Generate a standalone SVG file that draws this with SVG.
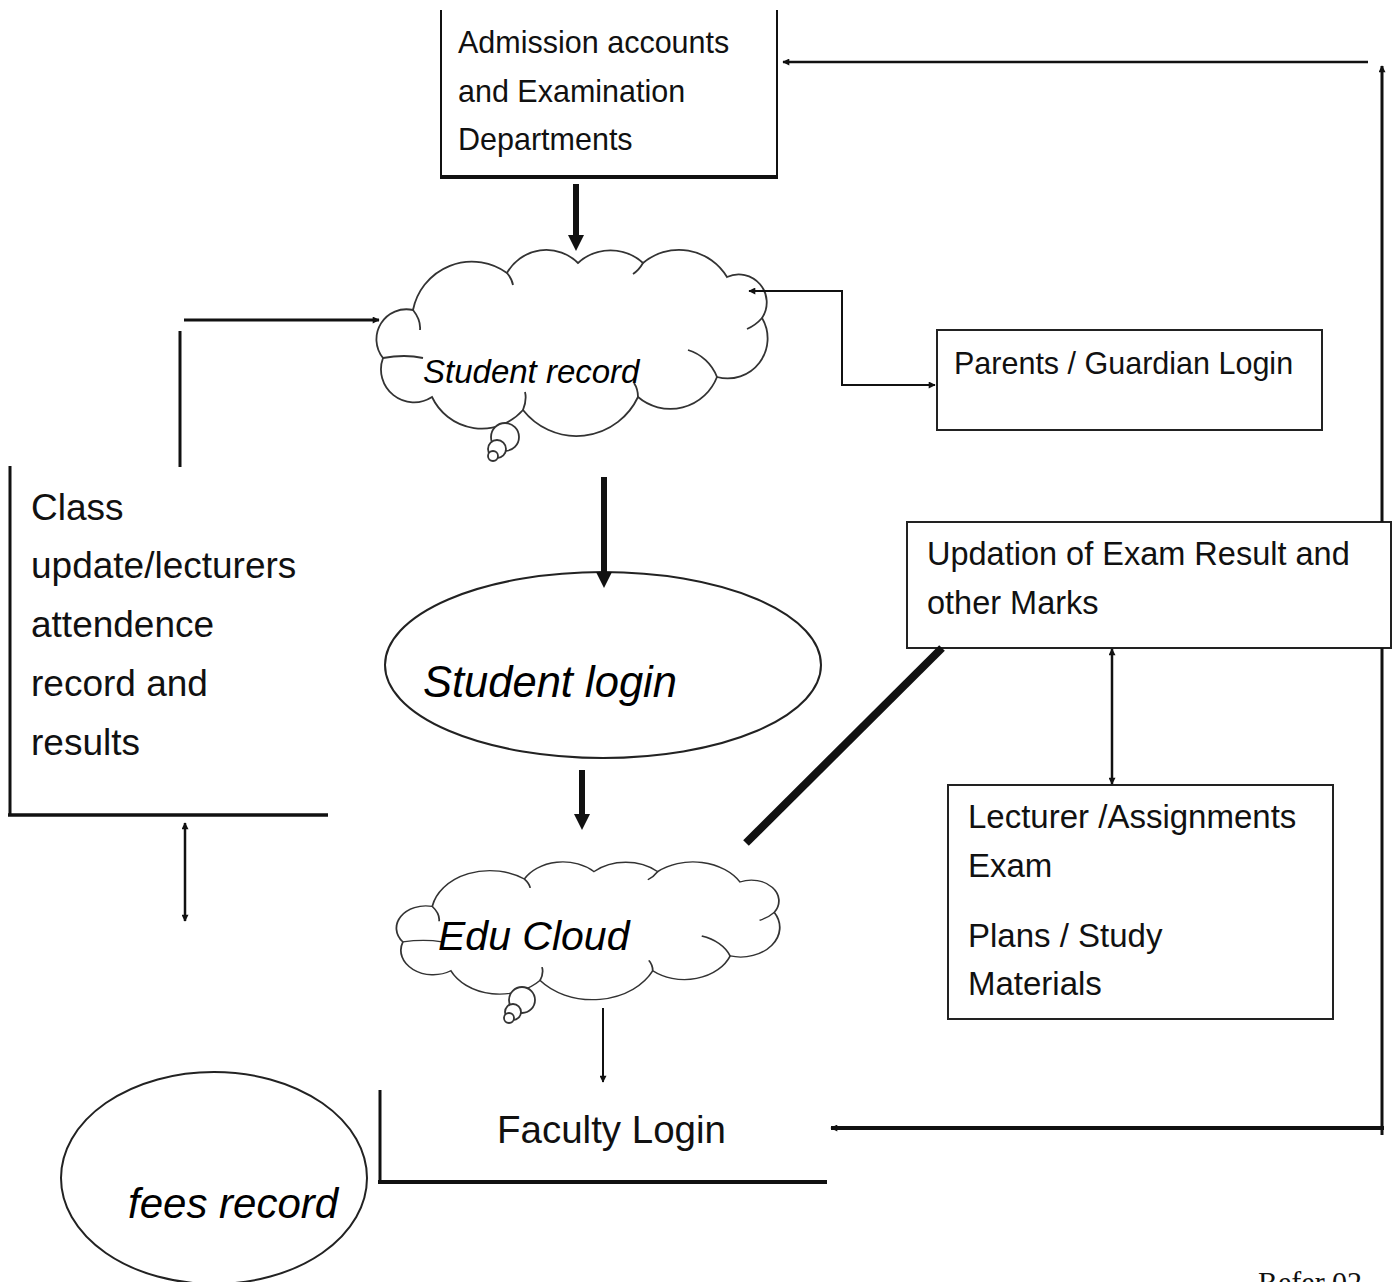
<svg xmlns="http://www.w3.org/2000/svg" width="1392" height="1282" viewBox="0 0 1392 1282">
<defs>
<style>
.t{font-family:"Liberation Sans",Arial,sans-serif;fill:#111}
.i{font-style:italic;fill:#000}
.ln{stroke:#111;fill:none}
.box{fill:#fff;stroke:#222;stroke-width:2}
.cl{fill:#fff;stroke:#333;stroke-width:1.8}
.in{fill:none;stroke:#333;stroke-width:1.8}
</style>
<marker id="big" viewBox="0 0 10 10" refX="1" refY="5" markerWidth="16" markerHeight="16" markerUnits="userSpaceOnUse" orient="auto"><path d="M0,0 L10,5 L0,10 z" fill="#111"/></marker>
<marker id="sm" viewBox="0 0 10 10" refX="9" refY="5" markerWidth="8" markerHeight="7" markerUnits="userSpaceOnUse" orient="auto-start-reverse"><path d="M0,0 L10,5 L0,10 z" fill="#111"/></marker>
<path id="cloud" d="M8,108 A30,30 0 0 1 38,60 A60,60 0 0 1 132,23 A45,45 0 0 1 203,13 A48,48 0 0 1 268,13 A56,56 0 0 1 352,27 A28,28 0 0 1 387,68 A40,40 0 0 1 342,127 A50,50 0 0 1 263,147 A68,68 0 0 1 148,160 A55,55 0 0 1 57,147 A33,33 0 0 1 8,108 Z"/>
<path id="cloudIn" d="M313,100 A45,45 0 0 1 342,127 M38,60 Q46,70 45,80 M148,160 Q152,150 150,142 M263,147 Q263,139 259,133 M387,68 Q381,75 372,79 M132,23 Q137,29 138,35 M268,13 Q264,20 258,24 M8,108 Q30,104 48,108"/>
</defs>

<g id="n-admission">
<path class="ln" stroke-width="2" d="M441,10 V177 M777,10 V177"/>
<line class="ln" x1="440" y1="177" x2="778" y2="177" stroke-width="4"/>
<text class="t" font-size="30.5" x="458" y="53">Admission accounts</text>
<text class="t" font-size="30.5" x="458" y="102">and Examination</text>
<text class="t" font-size="30.5" x="458" y="150">Departments</text>
</g>

<g id="n-student-record">
<use href="#cloud" class="cl" transform="translate(375,250)"/>
<use href="#cloudIn" class="in" transform="translate(375,250)"/>
<circle class="cl" cx="505" cy="437" r="14"/>
<circle class="cl" cx="497" cy="449" r="9"/>
<circle class="cl" cx="493" cy="456" r="5"/>
<text class="t i" font-size="33" x="423" y="383">Student record</text>
</g>

<g id="n-parents">
<rect class="box" x="937" y="330" width="385" height="100"/>
<text class="t" font-size="30.5" x="954" y="374">Parents / Guardian Login</text>
</g>

<g id="n-class">
<path class="ln" stroke-width="3" d="M10,466 V815"/>
<line class="ln" x1="8" y1="815" x2="328" y2="815" stroke-width="3.5"/>
<text class="t" font-size="37" x="31" y="520">Class</text>
<text class="t" font-size="37" x="31" y="578">update/lecturers</text>
<text class="t" font-size="37" x="31" y="637">attendence</text>
<text class="t" font-size="37" x="31" y="696">record and</text>
<text class="t" font-size="37" x="31" y="755">results</text>
</g>

<g id="n-student-login">
<ellipse cx="603" cy="665" rx="218" ry="93" fill="#fff" stroke="#222" stroke-width="2"/>
<text class="t i" font-size="43.5" x="423" y="697">Student login</text>
</g>

<g id="n-updation">
<rect class="box" x="907" y="522" width="484" height="126"/>
<text class="t" font-size="32.5" x="927" y="565">Updation of Exam Result and</text>
<text class="t" font-size="32.5" x="927" y="614">other Marks</text>
</g>

<g id="n-lecturer">
<rect class="box" x="948" y="785" width="385" height="234"/>
<text class="t" font-size="33" x="968" y="828">Lecturer /Assignments</text>
<text class="t" font-size="33" x="968" y="877">Exam</text>
<text class="t" font-size="33" x="968" y="947">Plans / Study</text>
<text class="t" font-size="33" x="968" y="995">Materials</text>
</g>

<g id="n-edu-cloud">
<use href="#cloud" class="cl" transform="translate(395,862) scale(0.98,0.74)"/>
<use href="#cloudIn" class="in" transform="translate(395,862) scale(0.98,0.74)"/>
<circle class="cl" cx="522" cy="1000" r="13"/>
<circle class="cl" cx="513" cy="1012" r="8"/>
<circle class="cl" cx="509" cy="1018" r="5"/>
<text class="t i" font-size="41" x="438" y="950">Edu Cloud</text>
</g>

<g id="n-faculty">
<path class="ln" stroke-width="3" d="M380,1090 V1183"/>
<line class="ln" x1="378" y1="1182" x2="827" y2="1182" stroke-width="4"/>
<text class="t" font-size="38.5" x="497" y="1143">Faculty Login</text>
</g>

<g id="n-fees">
<ellipse cx="214" cy="1178" rx="153" ry="106" fill="#fff" stroke="#222" stroke-width="2"/>
<text class="t i" font-size="42" x="128" y="1218">fees record</text>
</g>

<text font-family="'Liberation Serif','Times New Roman',serif" font-size="30" fill="#111" x="1258" y="1292">Refer 02</text>

<g id="connectors">
<line class="ln" x1="576" y1="184" x2="576" y2="236.6" stroke-width="6" marker-end="url(#big)"/>
<line class="ln" x1="604" y1="477" x2="604" y2="573.6" stroke-width="6" marker-end="url(#big)"/>
<line class="ln" x1="582" y1="770" x2="582" y2="815.6" stroke-width="6" marker-end="url(#big)"/>
<line class="ln" x1="942" y1="648" x2="746" y2="843" stroke-width="8"/>
<line class="ln" x1="1368" y1="62" x2="783" y2="62" stroke-width="2.5" marker-end="url(#sm)"/>
<path class="ln" d="M1382,1135 V648 M1382,522 V66" stroke-width="3" marker-end="url(#sm)"/>
<line class="ln" x1="1384" y1="1128" x2="831" y2="1128" stroke-width="4" marker-end="url(#sm)"/>
<polyline class="ln" points="749,291 842,291 842,385 935,385" stroke-width="2" marker-start="url(#sm)" marker-end="url(#sm)"/>
<line class="ln" x1="184" y1="320" x2="379" y2="320" stroke-width="3" marker-end="url(#sm)"/>
<line class="ln" x1="180" y1="331" x2="180" y2="467" stroke-width="3"/>
<line class="ln" x1="185" y1="823" x2="185" y2="921" stroke-width="2.5" marker-start="url(#sm)" marker-end="url(#sm)"/>
<line class="ln" x1="603" y1="1008" x2="603" y2="1082" stroke-width="2" marker-end="url(#sm)"/>
<line class="ln" x1="1112" y1="649" x2="1112" y2="784" stroke-width="2.5" marker-start="url(#sm)" marker-end="url(#sm)"/>
</g>
</svg>
